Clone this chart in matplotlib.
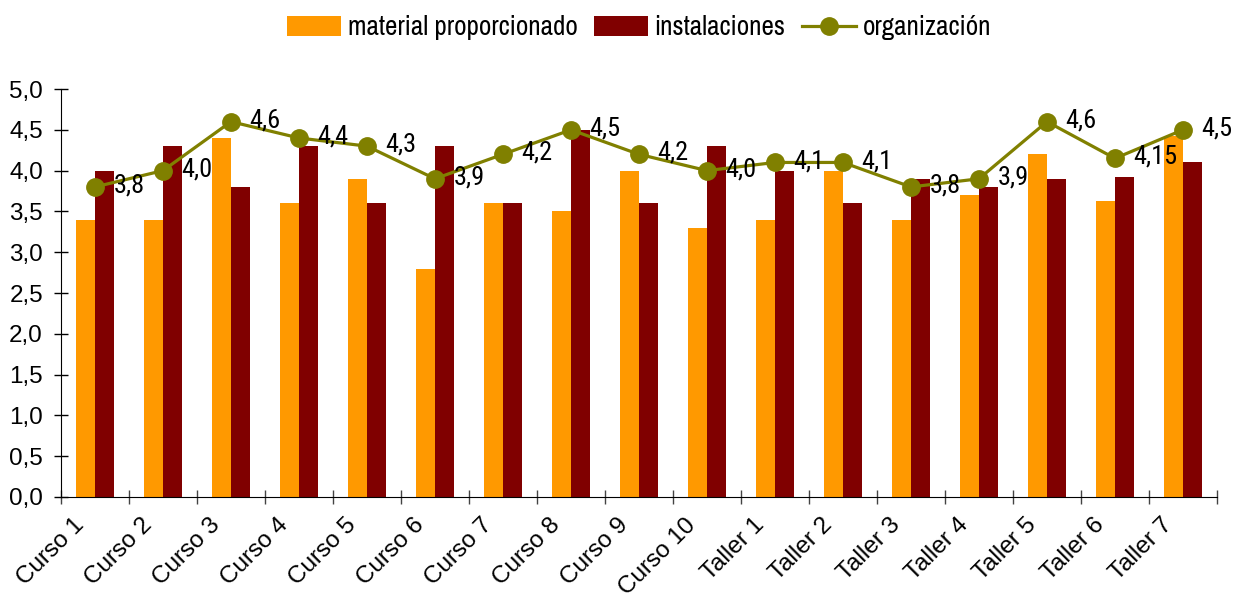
import numpy as np
import matplotlib
matplotlib.use('Agg')
import matplotlib.pyplot as plt
from matplotlib.ticker import FuncFormatter
from matplotlib.transforms import ScaledTranslation

categories = ['Curso 1', 'Curso 2', 'Curso 3', 'Curso 4', 'Curso 5', 'Curso 6',
              'Curso 7', 'Curso 8', 'Curso 9', 'Curso 10', 'Taller 1', 'Taller 2',
              'Taller 3', 'Taller 4', 'Taller 5', 'Taller 6', 'Taller 7']
material = [3.4, 3.4, 4.4, 3.6, 3.9, 2.8, 3.6, 3.5, 4.0, 3.3, 3.4, 4.0,
            3.4, 3.7, 4.2, 3.63, 4.43]
instalaciones = [4.0, 4.3, 3.8, 4.3, 3.6, 4.3, 3.6, 4.5, 3.6, 4.3, 4.0, 3.6,
                 3.9, 3.8, 3.9, 3.92, 4.1]
organizacion = [3.8, 4.0, 4.6, 4.4, 4.3, 3.9, 4.2, 4.5, 4.2, 4.0, 4.1, 4.1,
                3.8, 3.9, 4.6, 4.15, 4.5]
yticks = np.arange(0, 5.01, 0.5)

ORANGE = '#FF9900'
MAROON = '#800000'
OLIVE = '#808000'
LEGEND_FONT = ['Archivo Narrow', 'DejaVu Sans']
VALUE_FONT = ['Roboto Condensed', 'DejaVu Sans']

plt.rcParams['font.family'] = ['Liberation Sans', 'DejaVu Sans']


def fmt_es(v):
    s = f"{v:.1f}" if abs(round(v, 1) - v) < 1e-9 else f"{v:.2f}"
    return s.replace('.', ',')


fig = plt.figure(figsize=(12.34, 6.04), dpi=100)
ax = fig.add_axes([0.0494, 0.1772, 0.9368, 0.6754])

x = np.arange(len(categories))
w = 0.285
b1 = ax.bar(x - w / 2, material, width=w, color=ORANGE, label='material proporcionado', zorder=2)
b2 = ax.bar(x + w / 2, instalaciones, width=w, color=MAROON, label='instalaciones', zorder=2)
ln, = ax.plot(x, organizacion, color=OLIVE, lw=2.3, marker='o', markersize=12.5,
              label='organización', zorder=3)

for xi, v in zip(x, organizacion):
    ax.annotate(fmt_es(v), (xi, v), xytext=(13.5, 1.0), textcoords='offset points',
                ha='left', va='center', fontsize=19, family=VALUE_FONT, color='black', zorder=4)

ax.set_xlim(-0.5, len(categories) - 0.5)
ax.set_ylim(0, 5)
ax.set_yticks(yticks)
ax.yaxis.set_major_formatter(FuncFormatter(lambda v, p: fmt_es(v)))

# ticks sit on category boundaries, labels at category centers
ax.set_xticks(np.arange(-0.5, len(categories), 1.0))
ax.set_xticklabels([])
ax.set_xticks(x, minor=True)
ax.set_xticklabels(categories, minor=True, rotation=45, ha='right', va='top',
                   rotation_mode='anchor', fontsize=17.5)
ax.tick_params(axis='x', which='minor', length=0, pad=6)
ax.tick_params(axis='x', which='major', direction='inout', length=10, width=1, color='#444444')
ax.tick_params(axis='y', direction='inout', length=10, width=1, labelsize=17.5, pad=8)
for lbl in ax.get_xticklabels(minor=True):
    lbl.set_transform(lbl.get_transform() + ScaledTranslation(-0.22, -0.09, fig.dpi_scale_trans))

for side in ('top', 'right'):
    ax.spines[side].set_visible(False)
ax.spines['left'].set_color('black')
ax.spines['bottom'].set_color('black')

ax.legend([b1, b2, ln], ['material proporcionado', 'instalaciones', 'organización'],
          loc='center', bbox_to_anchor=(0.5, 1.15), ncol=3, frameon=False,
          prop={'family': LEGEND_FONT, 'size': 19.5}, handlelength=2.0, handleheight=0.78,
          handletextpad=0.25, columnspacing=0.6)

fig.savefig('out.png', dpi=100)
